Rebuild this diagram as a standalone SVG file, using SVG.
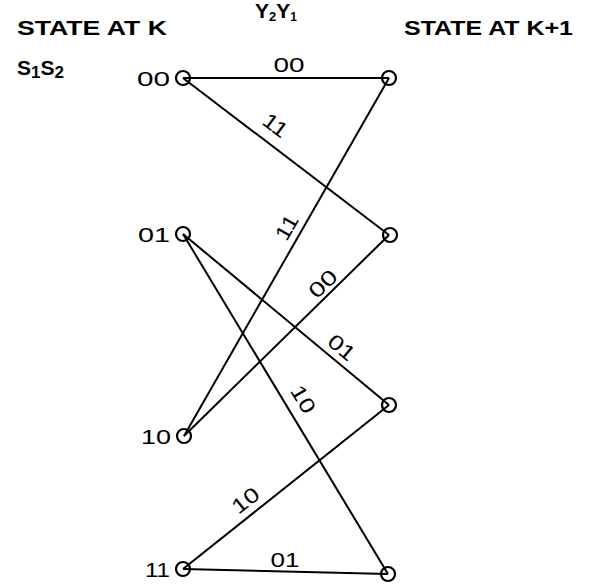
<svg xmlns="http://www.w3.org/2000/svg" width="592" height="587" viewBox="0 0 592 587">
<style>
.hdr{font-family:"Liberation Sans",Arial,sans-serif;font-weight:bold;font-size:21px;fill:#000}
.lbl{font-family:"Liberation Sans",Arial,sans-serif;font-size:21px;fill:#000}
.node{fill:none;stroke:#000;stroke-width:2.2}
.edge{stroke:#000;stroke-width:2;fill:none}
</style>
<rect width="592" height="587" fill="#fff"/>
<text class="hdr" x="17" y="35" textLength="150" lengthAdjust="spacingAndGlyphs">STATE AT K</text>
<text class="hdr" x="404" y="35" textLength="169" lengthAdjust="spacingAndGlyphs">STATE AT K+1</text>
<text class="hdr" x="17" y="75" font-size="23">S<tspan font-size="17" dy="3">1</tspan><tspan dy="-3">S</tspan><tspan font-size="17" dy="3">2</tspan></text>
<text class="lbl" x="255" y="18" font-size="16" font-weight="bold">Y<tspan font-size="13" dy="3">2</tspan><tspan dy="-3">Y</tspan><tspan font-size="12" dy="3">1</tspan></text>
<g id="connectors">
<line class="edge" x1="183" y1="78" x2="389" y2="78"/>
<line class="edge" x1="183" y1="78" x2="389" y2="235"/>
<line class="edge" x1="184" y1="436" x2="389" y2="78"/>
<line class="edge" x1="184" y1="436" x2="389" y2="235"/>
<line class="edge" x1="183" y1="234" x2="389" y2="405"/>
<line class="edge" x1="183" y1="234" x2="388" y2="574"/>
<line class="edge" x1="183" y1="569" x2="389" y2="405"/>
<line class="edge" x1="183" y1="569" x2="388" y2="574"/>
<text class="lbl" x="289" y="72" text-anchor="middle" textLength="31" lengthAdjust="spacingAndGlyphs">00</text>
<text class="lbl" text-anchor="middle" transform="translate(271,131) rotate(37)" textLength="26" lengthAdjust="spacingAndGlyphs">11</text>
<text class="lbl" text-anchor="middle" transform="translate(293,231) rotate(-60)" textLength="26" lengthAdjust="spacingAndGlyphs">11</text>
<text class="lbl" text-anchor="middle" transform="translate(328,289) rotate(-44)" textLength="31" lengthAdjust="spacingAndGlyphs">00</text>
<text class="lbl" text-anchor="middle" transform="translate(337,353) rotate(40)" textLength="29" lengthAdjust="spacingAndGlyphs">01</text>
<text class="lbl" text-anchor="middle" transform="translate(297,403) rotate(59)" textLength="29" lengthAdjust="spacingAndGlyphs">10</text>
<text class="lbl" text-anchor="middle" transform="translate(250,506) rotate(-38)" textLength="29" lengthAdjust="spacingAndGlyphs">10</text>
<text class="lbl" x="285" y="567" text-anchor="middle" textLength="29" lengthAdjust="spacingAndGlyphs">01</text>
</g>
<g id="k00"><circle class="node" cx="183" cy="78" r="7"/><text class="lbl" x="170" y="86" text-anchor="end" textLength="33" lengthAdjust="spacingAndGlyphs">00</text></g>
<g id="k01"><circle class="node" cx="183" cy="234" r="7"/><text class="lbl" x="170" y="242" text-anchor="end" textLength="32" lengthAdjust="spacingAndGlyphs">01</text></g>
<g id="k10"><circle class="node" cx="184" cy="436" r="7"/><text class="lbl" x="171" y="444" text-anchor="end" textLength="30" lengthAdjust="spacingAndGlyphs">10</text></g>
<g id="k11"><circle class="node" cx="183" cy="569" r="7"/><text class="lbl" x="170" y="577" text-anchor="end" textLength="25" lengthAdjust="spacingAndGlyphs">11</text></g>
<g id="n00"><circle class="node" cx="389" cy="78" r="7"/></g>
<g id="n01"><circle class="node" cx="390" cy="235" r="7"/></g>
<g id="n10"><circle class="node" cx="389" cy="405" r="7"/></g>
<g id="n11"><circle class="node" cx="388" cy="574" r="7"/></g>
</svg>
